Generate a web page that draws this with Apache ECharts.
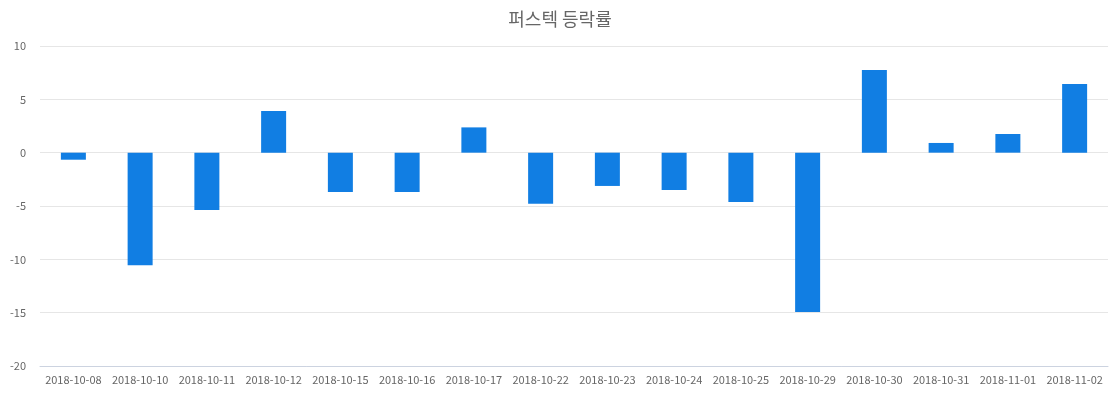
<!DOCTYPE html>
<html>
<head>
<meta charset="utf-8">
<script src="https://cdn.jsdelivr.net/npm/echarts@6/dist/echarts.min.js"></script>
<style>
  html, body { margin: 0; padding: 0; background: #fff; }
  #chart { width: 1120px; height: 400px; }
</style>
</head>
<body>
<div id="chart"></div>
<script>
// 날짜 (x축)
const dates = [
  '2018-10-08', '2018-10-10', '2018-10-11', '2018-10-12', '2018-10-15', '2018-10-16',
  '2018-10-17', '2018-10-22', '2018-10-23', '2018-10-24', '2018-10-25', '2018-10-29',
  '2018-10-30', '2018-10-31', '2018-11-01', '2018-11-02'
]
// 등락률 (%)
const rates = [
  -0.66, -10.56, -5.37, 3.91, -3.68, -3.68,
  2.37, -4.8, -3.12, -3.5, -4.62, -14.93,
  7.75, 0.91, 1.75, 6.44
]

const chart = echarts.init(document.getElementById('chart'))
const font = '"Noto Sans CJK KR", "Noto Sans", sans-serif'

const option = {
  animation: false,
  textStyle: { fontFamily: font },
  title: {
    text: '퍼스텍 등락률',
    left: 'center',
    top: 5,
    textStyle: { fontSize: 18, fontWeight: 'normal', color: '#666', fontFamily: font }
  },
  grid: {
    left: 40,
    right: 12,
    top: 46,
    bottom: 34
  },
  xAxis: {
    type: 'category',
    data: dates,
    axisLine: { onZero: false, lineStyle: { color: '#ccd3e0' } },
    axisTick: { lineStyle: { color: '#ccd3e0' } },
    axisLabel: { color: '#666', fontSize: 11, interval: 0, margin: 8 }
  },
  yAxis: {
    type: 'value',
    min: -20,
    max: 10,
    interval: 5,
    axisLine: { show: false },
    axisTick: { show: false },
    axisLabel: { color: '#666', fontSize: 11, margin: 14 },
    splitLine: { lineStyle: { color: '#e6e6e6' } }
  },
  series: [{
    type: 'bar',
    data: rates,
    barWidth: 25,
    itemStyle: { color: '#117ee3' }
  }]
}

chart.setOption(option)
</script>
</body>
</html>
